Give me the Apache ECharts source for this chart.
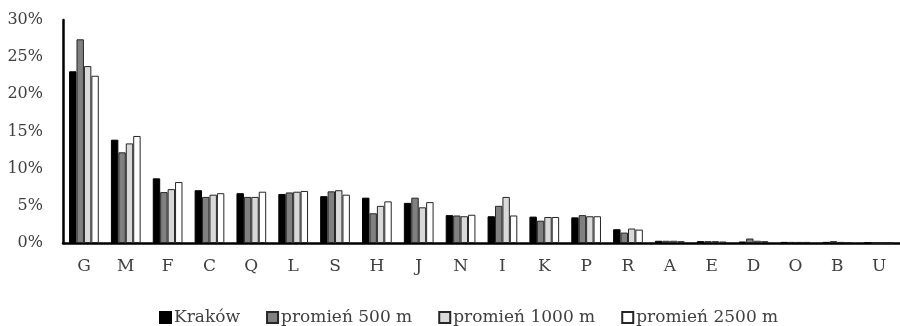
<!DOCTYPE html>
<html><head><meta charset="utf-8">
<script src="https://cdn.jsdelivr.net/npm/echarts@6/dist/echarts.min.js"></script>
<style>html,body{margin:0;padding:0;background:#fff}#c{width:900px;height:326px}</style>
</head><body><div id="c"></div>
<script>
const categories = ['G','M','F','C','Q','L','S','H','J','N','I','K','P','R','A','E','D','O','B','U'];
const seriesNames = ['Kraków','promień 500 m','promień 1000 m','promień 2500 m'];
const krakow  = [23.1,13.9,8.7,7.1,6.7,6.6,6.3,6.1,5.4,3.75,3.6,3.55,3.45,1.85,0.3,0.25,0.2,0.15,0.15,0.05];
const r500    = [27.4,12.2,6.85,6.2,6.2,6.8,6.95,4.0,6.1,3.7,5.0,3.0,3.75,1.4,0.3,0.25,0.6,0.15,0.25,0.02];
const r1000   = [23.8,13.4,7.25,6.5,6.2,6.9,7.1,5.0,4.8,3.6,6.2,3.5,3.6,1.95,0.3,0.25,0.3,0.15,0.15,0.02];
const r2500   = [22.5,14.4,8.2,6.7,6.9,7.0,6.5,5.6,5.5,3.8,3.7,3.5,3.6,1.8,0.25,0.2,0.25,0.15,0.1,0.05];
const yTicks = [0,5,10,15,20,25,30];

const fills = ['#000000','#808080','#d9d9d9','#ffffff'];
const borders = ['#000000','#262626','#262626','#262626'];
const dataSets = [krakow, r500, r1000, r2500];
const font = 'DejaVu Serif';
const chart = echarts.init(document.getElementById('c'));
chart.setOption({
  animation: false,
  textStyle: {fontFamily: font},
  grid: {left: 63, right: -8, top: 20, bottom: 83},
  legend: {
    top: 304, left: 154, icon: 'rect', itemWidth: 11, itemHeight: 11, itemGap: 26,
    data: seriesNames,
    textStyle: {fontFamily: font, fontSize: 17, color: '#404040', padding: [0,0,0,-2]}
  },
  xAxis: {
    type: 'category', data: categories,
    axisLine: {lineStyle: {color: '#000', width: 2.5}},
    axisTick: {show: false},
    axisLabel: {fontFamily: font, fontSize: 17, color: '#404040', margin: 15}
  },
  yAxis: {
    type: 'value', min: yTicks[0], max: yTicks[yTicks.length-1], interval: 5,
    axisLine: {show: true, lineStyle: {color: '#000', width: 2.5}},
    axisTick: {show: false},
    splitLine: {show: false},
    axisLabel: {fontFamily: font, fontSize: 16, color: '#404040', margin: 20, formatter: '{value}%'}
  },
  series: dataSets.map((d, i) => ({
    name: seriesNames[i], type: 'bar', data: d,
    barGap: '0%', barCategoryGap: '29%',
    itemStyle: {color: fills[i], borderColor: borders[i], borderWidth: 1}
  }))
});
</script></body></html>
